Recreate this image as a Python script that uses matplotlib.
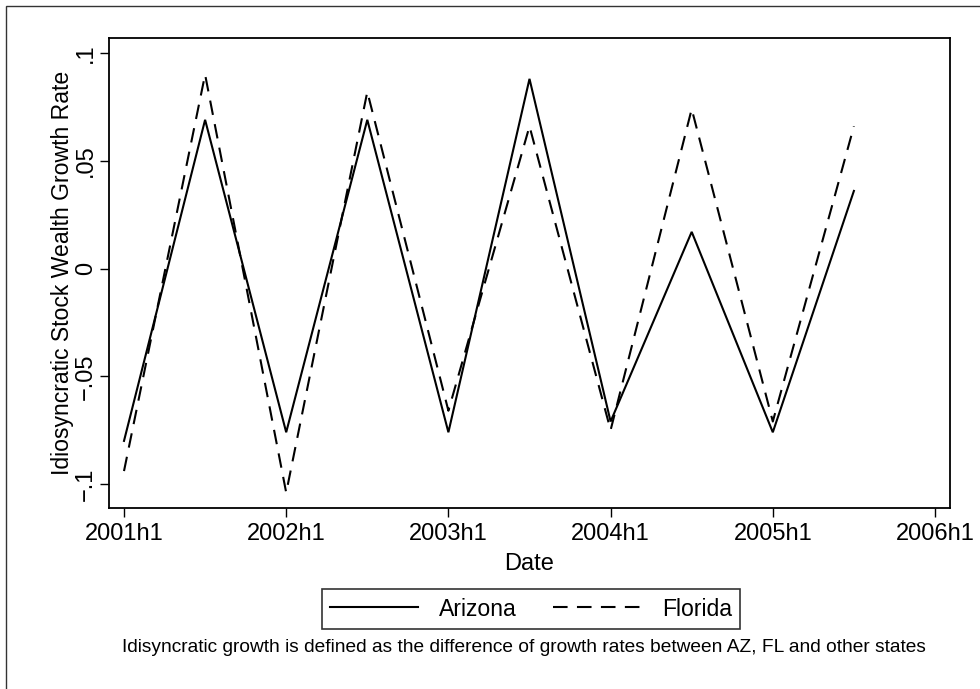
import numpy as np
import matplotlib
matplotlib.use("Agg")
import matplotlib.pyplot as plt
from matplotlib.patches import Rectangle

plt.rcParams['font.family'] = ['Liberation Sans', 'DejaVu Sans']

# half-year periods, 2001h1 .. 2005h2 (in years)
periods = [2001.0, 2001.5, 2002.0, 2002.5, 2003.0, 2003.5, 2004.0, 2004.5, 2005.0, 2005.5]
arizona = [-0.080, 0.069, -0.076, 0.069, -0.076, 0.088, -0.071, 0.017, -0.076, 0.036]
florida = [-0.094, 0.090, -0.104, 0.082, -0.066, 0.066, -0.075, 0.074, -0.071, 0.066]

xticks = [2001, 2002, 2003, 2004, 2005, 2006]
xtick_labels = ['2001h1', '2002h1', '2003h1', '2004h1', '2005h1', '2006h1']
yticks = [-0.1, -0.05, 0, 0.05, 0.1]
ytick_labels = ['\u2212.1', '\u2212.05', '0', '.05', '.1']

W, H = 980, 689
fig = plt.figure(figsize=(W / 100, H / 100), dpi=100)

# outer frame (Stata graph region)
fig.patches.append(Rectangle((6 / W, -0.1), 1.2, 1 - 6 / H + 0.1, transform=fig.transFigure,
                             fill=False, edgecolor='#333333', linewidth=1.0))

ax = fig.add_axes([109 / W, 1 - 508 / H, 841 / W, 470 / H])
l1, = ax.plot(periods, arizona, color='black', linewidth=1.5, solid_joinstyle='miter')
l2, = ax.plot(periods, florida, color='black', linewidth=1.5, dashes=(7, 4.5))

ax.set_xlim(2001 - 15 / 162.2, 2006 + 15 / 162.2)
ax.set_ylim(-0.1 - 24 / 2155, 0.1 + 15 / 2155)

ax.set_xticks(xticks)
ax.set_xticklabels(xtick_labels)
ax.set_yticks(yticks)
ax.set_yticklabels(ytick_labels, rotation=90, va='center')
ax.tick_params(axis='both', direction='out', length=6.5, width=1.0, labelsize=17, colors='black')
ax.tick_params(axis='x', pad=4)
ax.tick_params(axis='y', pad=2)

for s in ax.spines.values():
    s.set_linewidth(1.3)

ax.set_xlabel('Date', fontsize=17, labelpad=6)
ax.set_ylabel('Idiosyncratic Stock Wealth Growth Rate', fontsize=16.6, labelpad=1)

leg = fig.legend([l1, l2], ['Arizona', 'Florida'], ncol=2, loc='center',
                 bbox_to_anchor=(531 / W, 1 - 609 / H), fontsize=16.6, frameon=True,
                 fancybox=False, edgecolor='black', handlelength=3.8, columnspacing=1.6,
                 handletextpad=0.9, borderpad=0.35)
leg.get_frame().set_linewidth(1.2)

fig.text(524 / W, 1 - 648 / H,
         'Idisyncratic growth is defined as the difference of growth rates between AZ, FL and other states',
         ha='center', va='center', fontsize=13.8)

fig.savefig('out.png', dpi=100)
